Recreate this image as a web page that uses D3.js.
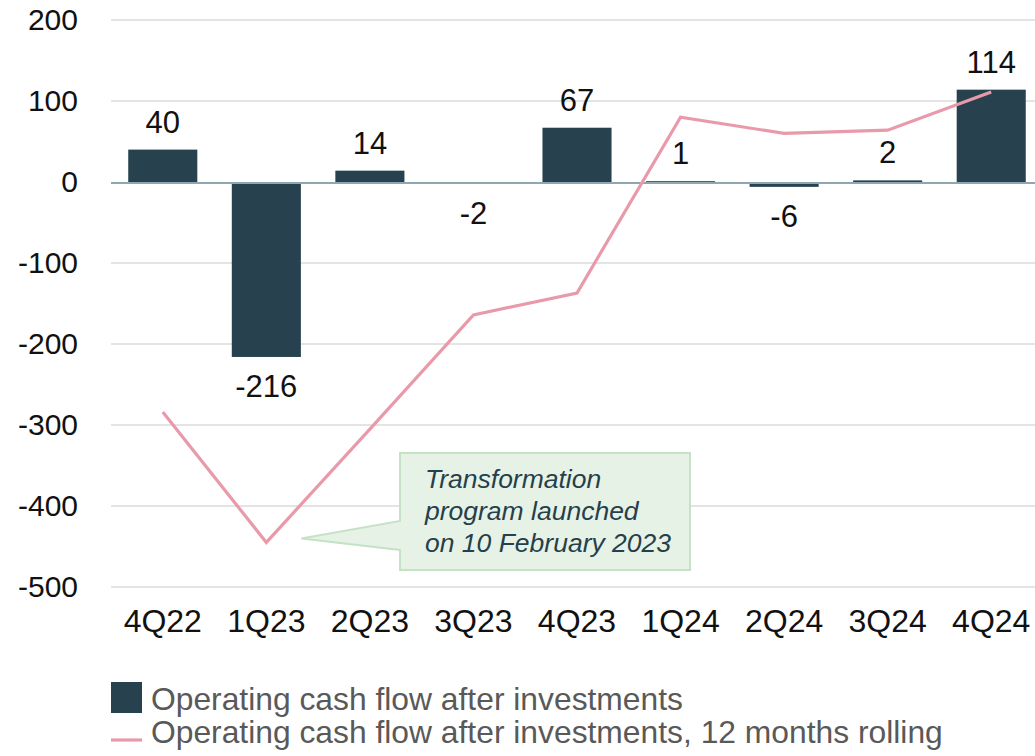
<!DOCTYPE html>
<html>
<head>
<meta charset="utf-8">
<script src="https://cdn.jsdelivr.net/npm/d3@7"></script>
<style>
  html, body { margin: 0; padding: 0; background: #fff; }
  svg { display: block; font-family: "Liberation Sans", Arial, sans-serif; }
</style>
</head>
<body>
<svg id="chart" width="1035" height="756"></svg>
<script>
// Quarterly operating cash flow after investments
const quarters = ["4Q22", "1Q23", "2Q23", "3Q23", "4Q23", "1Q24", "2Q24", "3Q24", "4Q24"];
const cashFlow = [40, -216, 14, -2, 67, 1, -6, 2, 114];
// 12 months rolling sum
const rolling = [-284, -445, -305, -164, -137, 80, 60, 64, 111];
const yTicks = [200, 100, 0, -100, -200, -300, -400, -500];
const legendLabels = [
  "Operating cash flow after investments",
  "Operating cash flow after investments, 12 months rolling"
];
const noteLines = ["Transformation", "program launched", "on 10 February 2023"];

const svg = d3.select("#chart");
const barColor = "#27414e";
const lineColor = "#e99aaa";
const fmt = d => String(d);

const x = d3.scaleBand().domain(quarters).range([111, 1043]).paddingInner(0.333).paddingOuter(0.1665);
const y = d3.scaleLinear().domain([-500, 200]).range([587, 20]);

// gridlines
svg.append("g").selectAll("line").data(yTicks.filter(d => d !== 0)).join("line")
  .attr("x1", 111).attr("x2", 1035)
  .attr("y1", d => y(d)).attr("y2", d => y(d))
  .attr("stroke", "#e4e4e4").attr("stroke-width", 2);

// y axis labels
const yAxis = d3.axisLeft(y).tickValues(yTicks).tickFormat(fmt).tickSize(0).tickPadding(0);
const yg = svg.append("g").attr("transform", "translate(78,0)").call(yAxis);
yg.select(".domain").remove();
yg.selectAll("text").attr("font-size", 30).attr("fill", "#111")
  .attr("font-family", "Liberation Sans, Arial, sans-serif");

// bars
svg.append("g").selectAll("rect").data(quarters).join("rect")
  .attr("x", d => x(d))
  .attr("width", x.bandwidth())
  .attr("y", (d, i) => y(Math.max(0, cashFlow[i])))
  .attr("height", (d, i) => Math.abs(y(cashFlow[i]) - y(0)))
  .attr("fill", barColor);

// zero line
svg.append("line").attr("x1", 111).attr("x2", 1035)
  .attr("y1", y(0) + 1).attr("y2", y(0) + 1)
  .attr("stroke", "#8fa7b3").attr("stroke-width", 2);

// x axis labels
const xAxis = d3.axisBottom(x).tickSize(0).tickPadding(0);
const xg = svg.append("g").attr("transform", "translate(0,598)").call(xAxis);
xg.select(".domain").remove();
xg.selectAll("text").attr("font-size", 32).attr("fill", "#111")
  .attr("dy", "1.05em")
  .attr("font-family", "Liberation Sans, Arial, sans-serif");

// value labels
svg.append("g").selectAll("text").data(cashFlow).join("text")
  .attr("x", (d, i) => x(quarters[i]) + x.bandwidth() / 2)
  .attr("y", d => d >= 0 ? y(d) - 17 : y(d) + 40)
  .attr("text-anchor", "middle")
  .attr("font-size", 31).attr("fill", "#111")
  .text(fmt);

// rolling line
const line = d3.line().x((d, i) => x(quarters[i]) + x.bandwidth() / 2).y(d => y(d));
svg.append("path").datum(rolling)
  .attr("d", line).attr("fill", "none")
  .attr("stroke", lineColor).attr("stroke-width", 3.2)
  .attr("stroke-linejoin", "miter");

// callout box with pointer
const bx0 = 400, by0 = 453, bx1 = 690, by1 = 570;
const tipX = x("1Q23") + x.bandwidth() / 2 + 35, tipY = y(rolling[1]) - 4;
const callout = d3.path();
callout.moveTo(bx0, by0);
callout.lineTo(bx1, by0);
callout.lineTo(bx1, by1);
callout.lineTo(bx0, by1);
callout.lineTo(bx0, 550);
callout.lineTo(tipX, tipY);
callout.lineTo(bx0, 521);
callout.closePath();
svg.append("path").attr("d", callout.toString())
  .attr("fill", "#e6f2e5").attr("stroke", "#c6e2c6").attr("stroke-width", 2);

svg.append("g").selectAll("text").data(noteLines).join("text")
  .attr("x", 425).attr("y", (d, i) => 488 + i * 32)
  .attr("font-size", 26.5).attr("font-style", "italic")
  .attr("fill", "#263f4c")
  .text(d => d);

// legend
const lg = svg.append("g");
lg.append("rect").attr("x", 111).attr("y", 682).attr("width", 31).attr("height", 31).attr("fill", barColor);
lg.append("line").attr("x1", 111).attr("x2", 142).attr("y1", 740).attr("y2", 740)
  .attr("stroke", lineColor).attr("stroke-width", 3.2);
lg.selectAll("text").data(legendLabels).join("text")
  .attr("x", 151).attr("y", (d, i) => 710 + i * 33)
  .attr("font-size", 31.8).attr("fill", "#595959")
  .text(d => d);
</script>
</body>
</html>
